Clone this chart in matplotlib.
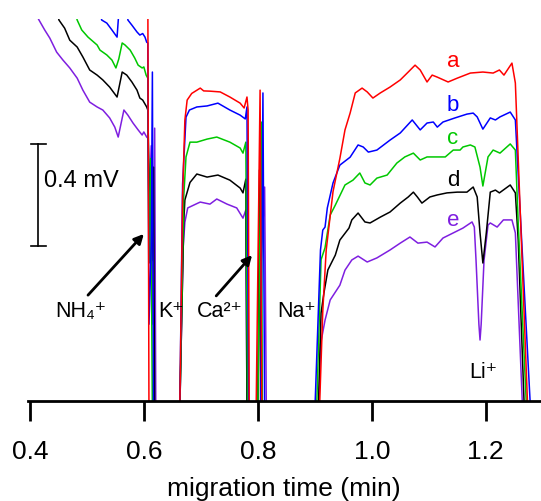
import matplotlib.pyplot as plt

plt.rcParams['font.family'] = ['Liberation Sans', 'DejaVu Sans']

# (migration time in min, signal in mV) for the five offset runs a-e;
# values outside 0..1.5 mV run off the plotted window
trace_a = [
    (0.400, 1.60), (0.607, 1.60), (0.609, -0.05),
    (0.663, -0.05), (0.668, 0.80), (0.672, 1.10), (0.676, 1.179), (0.684, 1.205), (0.699, 1.226),
    (0.705, 1.215), (0.716, 1.214), (0.734, 1.211), (0.751, 1.191), (0.769, 1.167), (0.776, 1.148),
    (0.781, 1.191), (0.783, 1.140), (0.785, -0.05),
    (0.797, -0.05), (0.804, 1.218), (0.807, -0.05),
    (0.908, -0.05), (0.914, 0.35), (0.920, 0.59), (0.932, 0.82), (0.944, 0.95), (0.953, 1.062),
    (0.962, 1.128), (0.971, 1.207), (0.983, 1.226), (0.992, 1.211), (1.002, 1.187), (1.015, 1.207),
    (1.032, 1.230), (1.050, 1.258), (1.064, 1.289), (1.076, 1.316), (1.085, 1.297), (1.097, 1.250),
    (1.106, 1.277), (1.115, 1.269), (1.134, 1.250), (1.150, 1.265), (1.173, 1.285), (1.195, 1.289),
    (1.213, 1.285), (1.224, 1.297), (1.232, 1.277), (1.246, 1.324), (1.252, 1.246), (1.274, -0.05),
    (1.300, -0.05),
]
trace_b = [
    (0.400, 1.60), (0.518, 1.60), (0.526, 1.493), (0.535, 1.481), (0.544, 1.454), (0.553, 1.426),
    (0.556, 1.52), (0.558, 1.60), (0.570, 1.60), (0.572, 1.493), (0.579, 1.473), (0.588, 1.446),
    (0.593, 1.434), (0.598, 1.440), (0.602, 1.426), (0.605, 1.406), (0.607, 1.403),
    (0.609, 0.30), (0.613, 0.60), (0.615, 1.289), (0.617, -0.05),
    (0.663, -0.05), (0.668, 0.85), (0.674, 1.112), (0.680, 1.14), (0.693, 1.152), (0.711, 1.156),
    (0.730, 1.167), (0.751, 1.140), (0.769, 1.120), (0.778, 1.105), (0.781, 1.152), (0.784, -0.05),
    (0.805, -0.05), (0.809, 1.207), (0.812, -0.05),
    (0.900, -0.05), (0.910, 0.591), (0.914, 0.669), (0.918, 0.681), (0.922, 0.756), (0.932, 0.854),
    (0.944, 0.924), (0.962, 0.955), (0.976, 1.003), (0.985, 0.995), (0.994, 0.975), (1.009, 0.983),
    (1.032, 1.022), (1.050, 1.050), (1.071, 1.101), (1.085, 1.062), (1.097, 1.089), (1.108, 1.093),
    (1.115, 1.073), (1.125, 1.093), (1.146, 1.109), (1.167, 1.124), (1.178, 1.128), (1.185, 1.113),
    (1.195, 1.065), (1.208, 1.109), (1.217, 1.101), (1.225, 1.113), (1.243, 1.132), (1.252, 1.101),
    (1.260, 0.760), (1.279, -0.05), (1.300, -0.05),
]
trace_c = [
    (0.400, 1.60), (0.470, 1.60), (0.483, 1.493), (0.491, 1.454), (0.502, 1.426), (0.518, 1.395),
    (0.523, 1.375), (0.535, 1.356), (0.544, 1.336), (0.551, 1.305), (0.556, 1.34), (0.562, 1.403),
    (0.567, 1.395), (0.576, 1.375), (0.584, 1.344), (0.590, 1.316), (0.597, 1.305), (0.600, 1.309),
    (0.604, 1.277), (0.607, 1.265),
    (0.609, 0.55), (0.612, 0.95), (0.615, -0.05),
    (0.663, -0.05), (0.670, 0.80), (0.674, 0.956), (0.681, 1.014), (0.693, 1.014), (0.711, 1.026),
    (0.728, 1.034), (0.751, 1.014), (0.769, 0.991), (0.774, 0.971), (0.779, 1.014), (0.782, -0.05),
    (0.800, -0.05), (0.806, 1.093), (0.808, -0.05),
    (0.903, -0.05), (0.911, 0.553), (0.918, 0.600), (0.927, 0.728), (0.936, 0.767), (0.953, 0.846),
    (0.967, 0.865), (0.979, 0.893), (0.988, 0.854), (0.997, 0.846), (1.009, 0.873), (1.027, 0.885),
    (1.044, 0.932), (1.058, 0.956), (1.073, 0.971), (1.085, 0.944), (1.097, 0.956), (1.115, 0.956),
    (1.129, 0.956), (1.143, 0.983), (1.155, 0.983), (1.160, 0.995), (1.173, 1.003), (1.181, 0.995),
    (1.190, 0.916), (1.195, 0.842), (1.204, 0.956), (1.213, 0.983), (1.225, 0.971), (1.243, 1.007),
    (1.252, 0.983), (1.257, 0.697), (1.272, -0.05), (1.300, -0.05),
]
trace_d = [
    (0.400, 1.60), (0.440, 1.60), (0.451, 1.493), (0.461, 1.461), (0.470, 1.414), (0.483, 1.387),
    (0.493, 1.348), (0.505, 1.297), (0.518, 1.277), (0.528, 1.258), (0.540, 1.230), (0.553, 1.191),
    (0.562, 1.289), (0.570, 1.277), (0.579, 1.250), (0.588, 1.218), (0.593, 1.187), (0.598, 1.179),
    (0.605, 1.152), (0.607, 1.140),
    (0.609, 0.90), (0.611, 0.54), (0.614, 0.55), (0.617, 0.916), (0.619, -0.05),
    (0.663, -0.05), (0.670, 0.70), (0.672, 0.787), (0.681, 0.856), (0.693, 0.889), (0.711, 0.877),
    (0.730, 0.885), (0.751, 0.865), (0.769, 0.834), (0.774, 0.815), (0.779, 0.869), (0.781, -0.05),
    (0.800, -0.05), (0.803, 0.905), (0.805, -0.05),
    (0.906, -0.05), (0.911, 0.344), (0.916, 0.422), (0.923, 0.513), (0.936, 0.571), (0.944, 0.630),
    (0.960, 0.677), (0.965, 0.709), (0.976, 0.736), (0.988, 0.701), (0.997, 0.697), (1.015, 0.720),
    (1.032, 0.740), (1.050, 0.775), (1.064, 0.799), (1.073, 0.818), (1.080, 0.799), (1.088, 0.775),
    (1.102, 0.799), (1.115, 0.807), (1.132, 0.815), (1.150, 0.818), (1.167, 0.818), (1.178, 0.838),
    (1.185, 0.799), (1.190, 0.658), (1.195, 0.540), (1.201, 0.658), (1.208, 0.818), (1.217, 0.826),
    (1.224, 0.815), (1.243, 0.846), (1.252, 0.815), (1.257, 0.630), (1.268, -0.05), (1.300, -0.05),
]
trace_e = [
    (0.400, 1.56), (0.416, 1.493), (0.426, 1.454), (0.435, 1.422), (0.447, 1.367), (0.458, 1.336),
    (0.470, 1.305), (0.483, 1.265), (0.493, 1.218), (0.505, 1.171), (0.518, 1.152), (0.528, 1.140),
    (0.540, 1.109), (0.549, 1.073), (0.555, 1.034), (0.565, 1.140), (0.572, 1.120), (0.581, 1.089),
    (0.590, 1.062), (0.597, 1.042), (0.600, 1.054), (0.605, 1.034), (0.607, 1.030),
    (0.609, 0.75), (0.613, 1.00), (0.616, 0.30), (0.619, 1.069), (0.621, -0.05),
    (0.663, -0.05), (0.669, 0.60), (0.672, 0.70), (0.677, 0.756), (0.695, 0.775), (0.699, 0.779),
    (0.716, 0.771), (0.728, 0.791), (0.746, 0.771), (0.763, 0.756), (0.774, 0.716), (0.779, 0.748),
    (0.781, -0.05),
    (0.800, -0.05), (0.803, 0.58), (0.806, 0.55), (0.812, 0.838), (0.815, -0.05),
    (0.907, -0.05), (0.910, 0.22), (0.918, 0.316), (0.927, 0.395), (0.944, 0.453), (0.953, 0.512),
    (0.965, 0.552), (0.976, 0.567), (0.992, 0.544), (1.009, 0.560), (1.032, 0.591), (1.050, 0.618),
    (1.067, 0.642), (1.081, 0.618), (1.097, 0.622), (1.111, 0.603), (1.125, 0.638), (1.143, 0.658),
    (1.160, 0.677), (1.176, 0.701), (1.180, 0.681), (1.183, 0.55), (1.188, 0.30), (1.190, 0.238),
    (1.192, 0.30), (1.197, 0.55), (1.204, 0.689), (1.208, 0.697), (1.220, 0.681), (1.231, 0.709),
    (1.246, 0.709), (1.252, 0.658), (1.265, -0.05), (1.300, -0.05),
]

run_names = ['a', 'b', 'c', 'd', 'e']
run_colors = ['#ff0000', '#0000ff', '#00c800', '#000000', '#7f1fe0']
run_traces = [trace_a, trace_b, trace_c, trace_d, trace_e]
name_mv = [1.310, 1.136, 1.007, 0.843, 0.685]   # baseline of each run letter

ions = ['NH\u2084\u207a', 'K\u207a', 'Ca\u00b2\u207a', 'Na\u207a', 'Li\u207a']
ion_t = [0.444, 0.625, 0.693, 0.834, 1.171]
ion_mv = [0.328, 0.328, 0.328, 0.328, 0.089]

scale_mv = 0.4
ticks = [0.4, 0.6, 0.8, 1.0, 1.2]

fig = plt.figure(figsize=(5.41, 5.01), dpi=100)
ax = fig.add_axes([27.6 / 541, 100.3 / 501, 513.4 / 541, 381.7 / 501])

for trace, color in list(zip(run_traces, run_colors))[::-1]:
    t, mv = zip(*trace)
    ax.plot(t, mv, color=color, lw=1.1, solid_joinstyle='round')

for name, color, y in zip(run_names, run_colors, name_mv):
    ax.text(1.132, y, name, color=color, fontsize=16, va='baseline', ha='left')

for label, x, y in zip(ions, ion_t, ion_mv):
    ax.text(x, y, label, fontsize=15.5, va='baseline', ha='left')

arrow = dict(arrowstyle='-|>', color='k', lw=2, mutation_scale=14, shrinkA=0, shrinkB=0)
ax.annotate('', xy=(0.600, 0.654), xytext=(0.502, 0.414), arrowprops=arrow)
ax.annotate('', xy=(0.790, 0.571), xytext=(0.727, 0.411), arrowprops=arrow)

# 0.4 mV scale bar
y0 = 0.607
ax.plot([0.414, 0.414], [y0, y0 + scale_mv], color='k', lw=1.2)
ax.plot([0.402, 0.428], [y0, y0], color='k', lw=1.2)
ax.plot([0.402, 0.428], [y0 + scale_mv, y0 + scale_mv], color='k', lw=1.2)
ax.text(0.425, 0.839, '%.1f mV' % scale_mv, fontsize=17, va='baseline', ha='left')

ax.set_xlim(0.396, 1.297)
ax.set_ylim(0, 1.497)
for side in ['left', 'right', 'top']:
    ax.spines[side].set_visible(False)
ax.spines['bottom'].set_linewidth(2)
ax.set_yticks([])
ax.set_xticks(ticks)
ax.set_xticklabels(['%.1f' % v for v in ticks])
ax.tick_params(axis='x', direction='out', length=14.5, width=2, labelsize=19, pad=14)
ax.set_xlabel('migration time (min)', fontsize=19, labelpad=9)

fig.savefig('out.png', dpi=100)
